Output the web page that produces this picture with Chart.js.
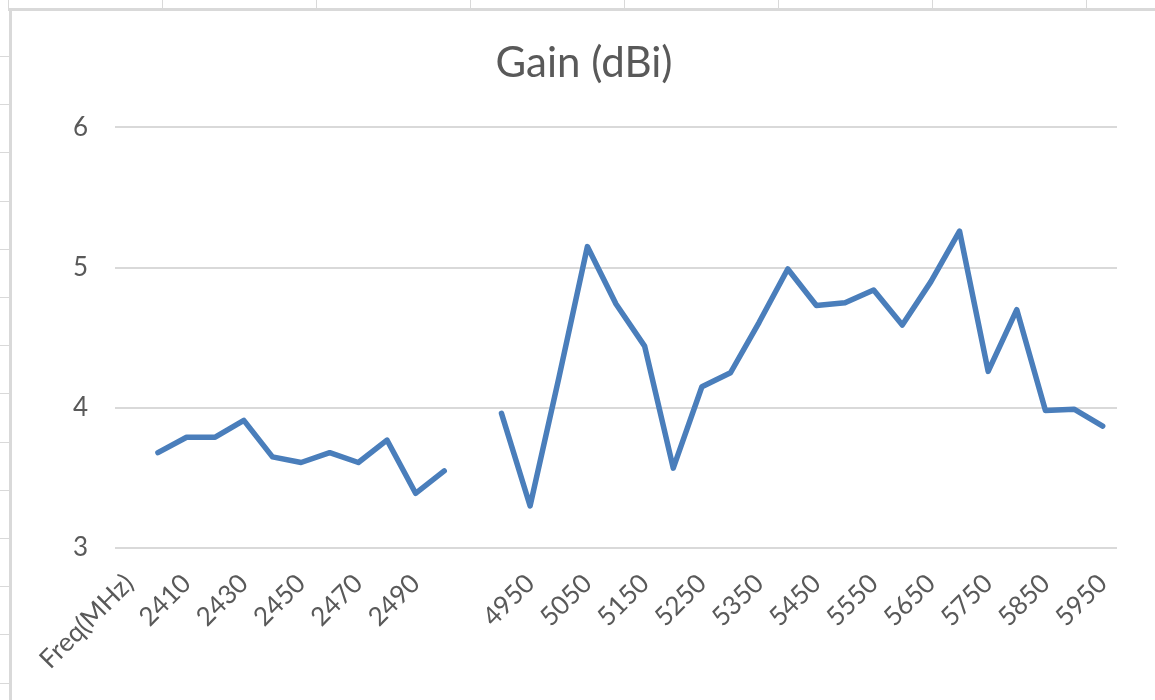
<!DOCTYPE html>
<html>
<head>
<meta charset="utf-8">
<script src="https://cdn.jsdelivr.net/npm/chart.js@4/dist/chart.umd.min.js"></script>
<style>
  body { margin: 0; background: #fff; }
  #wrap { width: 1155px; height: 700px; position: relative; }
</style>
</head>
<body>
<div id="wrap"><canvas id="myChart"></canvas></div>
<script>
// categories (first column of the sheet, one blank row between the bands)
const freqs = [
    "Freq(MHz)",
    "2400", "2410", "2420", "2430", "2440", "2450", "2460", "2470", "2480", "2490", "2500",
    "",
    "4900", "4950", "5000", "5050", "5100", "5150", "5200", "5250", "5300", "5350", "5400",
    "5450", "5500", "5550", "5600", "5650", "5700", "5750", "5800", "5850", "5900", "5950",
];

// gain values, null where the sheet cell is empty
const gain = [
    null,
    3.68, 3.79, 3.79, 3.91, 3.65, 3.61, 3.68, 3.61, 3.77, 3.39, 3.55,
    null,
    3.96, 3.30, 4.21, 5.15, 4.74, 4.44, 3.57, 4.15, 4.25, 4.61, 4.99,
    4.73, 4.75, 4.84, 4.59, 4.90, 5.26, 4.26, 4.70, 3.98, 3.99, 3.87,
];

const yTicks = [3, 4, 5, 6];

// excel sheet frame behind the chart
const sheetFrame = {
    id: "sheetFrame",
    beforeDraw(chart) {
        const ctx = chart.ctx;
        ctx.save();
        ctx.fillStyle = "#fff";
        ctx.fillRect(0, 0, chart.width, chart.height);
        ctx.strokeStyle = "#d9d9d9";
        ctx.lineWidth = 3;
        ctx.beginPath();
        ctx.moveTo(8, 9.5);
        ctx.lineTo(chart.width, 9.5);
        ctx.moveTo(10.5, 8);
        ctx.lineTo(10.5, chart.height);
        ctx.stroke();
        ctx.lineWidth = 1;
        ctx.beginPath();
        for (let x = 8; x < chart.width; x += 154) {
            ctx.moveTo(x + 0.5, 0);
            ctx.lineTo(x + 0.5, 8);
        }
        for (let y = 56; y < chart.height; y += 48.2) {
            ctx.moveTo(0, Math.round(y) + 0.5);
            ctx.lineTo(9, Math.round(y) + 0.5);
        }
        ctx.stroke();
        ctx.restore();
    },
};

const data = {
    labels: freqs,
    datasets: [
        {
            label: "Gain (dBi)",
            data: gain,
            borderColor: "rgb(74, 126, 187)",
            backgroundColor: "rgb(74, 126, 187)",
            borderWidth: 5.5,
            pointRadius: 0,
            spanGaps: false,
            tension: 0,
            borderJoinStyle: "round",
            borderCapStyle: "round",
        },
    ],
};

const config = {
    type: "line",
    data: data,
    plugins: [sheetFrame],
    options: {
        responsive: true,
        maintainAspectRatio: false,
        animation: false,
        layout: { padding: { top: 0, right: 38, bottom: 0, left: 51 } },
        plugins: {
            legend: { display: false },
            tooltip: { enabled: false },
            title: {
                display: true,
                text: "Gain (dBi)",
                color: "#595959",
                font: { family: "Lato", size: 42, weight: "normal" },
                padding: { top: 38, bottom: 39 },
            },
        },
        scales: {
            x: {
                offset: true,
                grid: { display: false },
                border: { display: false },
                ticks: {
                    autoSkip: false,
                    maxRotation: 45,
                    minRotation: 45,
                    color: "#595959",
                    font: { family: "Lato", size: 26 },
                    padding: 12,
                    callback: function (val, index) {
                        return index % 2 === 0 ? this.getLabelForValue(val) : "";
                    },
                },
                afterFit: (scale) => { scale.height = 152; },
            },
            y: {
                min: 3,
                max: 6,
                afterBuildTicks: (scale) => {
                    scale.ticks = yTicks.map((v) => ({ value: v }));
                },
                grid: { color: "#d9d9d9", lineWidth: 2, drawTicks: false },
                border: { display: false },
                ticks: {
                    color: "#595959",
                    font: { family: "Lato", size: 26 },
                    padding: 27,
                },
                afterFit: (scale) => { scale.width = 64; },
            },
        },
    },
};

const myChart = new Chart(document.getElementById("myChart"), config);
</script>
</body>
</html>
